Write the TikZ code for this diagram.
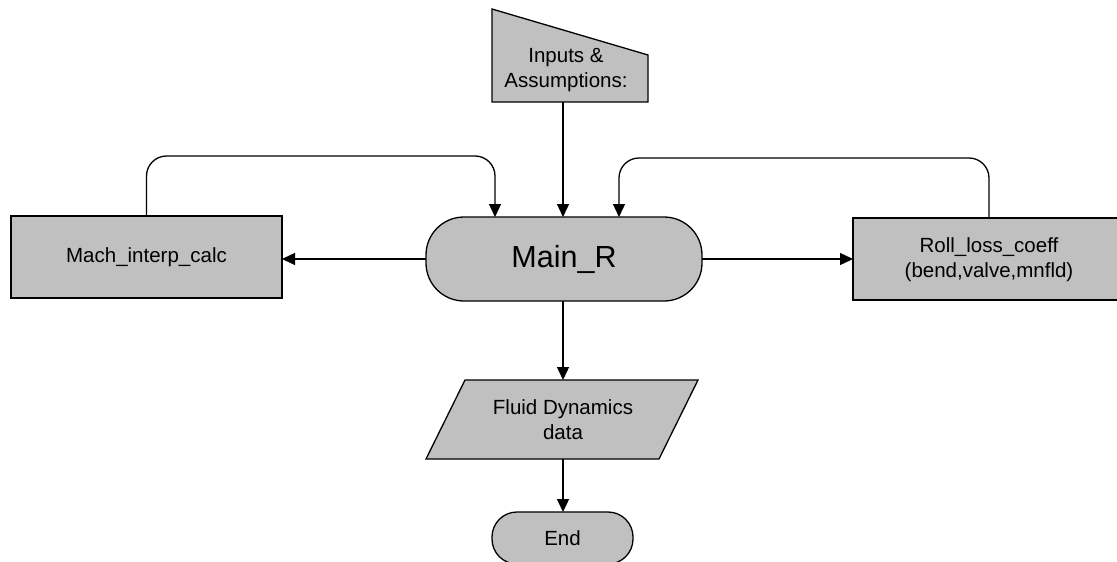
\documentclass[tikz,border=0pt]{standalone}
\usepackage{fontspec}
\setmainfont{Liberation Sans}
\usetikzlibrary{arrows.meta,calc}
\definecolor{boxgray}{RGB}{192,192,192}
\tikzset{
  shapeline/.style={draw=black, fill=boxgray, line width=1.3pt, line join=miter},
  box/.style={shapeline, rectangle, inner sep=0pt, outer sep=0pt, align=center,
    font=\fontsize{20.5}{25}\selectfont},
  terminal/.style={box, rounded corners=#1},
  label/.style={inner sep=0pt, align=center, font=\fontsize{20.5}{25}\selectfont},
  arr/.style={draw=black, line width=1.3pt, -{Triangle[length=13pt,width=12pt]}},
}
\begin{document}
\begin{tikzpicture}[x=1pt,y=-1pt]
\clip (0,0) rectangle (1117,562);
\fill[white] (0,0) rectangle (1117,562);

% Inputs & Assumptions (manual input)
\draw[shapeline] (492,9) -- (648,55) -- (648,102) -- (492,102) -- cycle;
\node[label] (in) at (566,70) {Inputs \&\\Assumptions:};
\coordinate (inbot) at (563,102);

% Main_R
\node[terminal=38pt, minimum width=276pt, minimum height=84pt,
      font=\fontsize{30.5}{36}\selectfont] (main) at (564,259) {Main\_R};

% Mach_interp_calc
\node[box, minimum width=271pt, minimum height=82pt] (mach) at (146.5,257) {Mach\_interp\_calc};

% Roll_loss_coeff (box runs past the right edge)
\draw[shapeline] (853,218) rectangle (1150,300);
\node[label] (roll) at (989,260) {Roll\_loss\_coeff\\(bend,valve,mnfld)};
\coordinate (rollwest) at (853,259);
\coordinate (rolltop) at (989,218);

% Fluid Dynamics data (parallelogram)
\draw[shapeline] (465,380) -- (698,380) -- (659,459) -- (426,459) -- cycle;
\node[label] (fluid) at (563,420) {Fluid Dynamics\\data};
\coordinate (fltop) at (563,380);
\coordinate (flbot) at (563,459);

% End
\node[terminal=25pt, minimum width=141pt, minimum height=52pt] (end) at (562.5,538) {End};

% connectors
\draw[arr] (inbot) -- (main.north -| inbot);
\draw[arr] (main.west) -- (main.west -| mach.east);
\draw[arr] (main.east) -- (rollwest);
\draw[arr, rounded corners=20pt] (mach.north) |- (495,156) -- (main.north -| 495,0);
\draw[arr, rounded corners=20pt] (rolltop) |- (619,158) -- (main.north -| 619,0);
\draw[arr] (main.south -| fltop) -- (fltop);
\draw[arr] (flbot) -- (end.north -| flbot);
\end{tikzpicture}
\end{document}
